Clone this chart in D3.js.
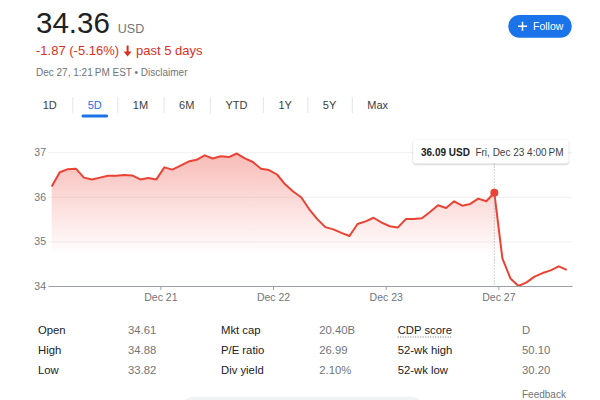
<!DOCTYPE html>
<html><head><meta charset="utf-8">
<script src="https://cdn.jsdelivr.net/npm/d3@7"></script>
<style>
body{margin:0;background:#fff;}
svg{display:block;font-family:"Liberation Sans",Arial,sans-serif;}
</style>
</head><body><svg id="c" width="600" height="400"></svg>
<script>
// ---- data (30-minute samples per trading day) ----
const dayLabels = ["Dec 20", "Dec 21", "Dec 22", "Dec 23", "Dec 27"];
const dec20 = [36.23, 36.55, 36.62, 36.63, 36.43, 36.39, 36.43, 36.47, 36.47, 36.49, 36.48, 36.39, 36.42, 36.39];
const dec21 = [36.66, 36.61, 36.70, 36.79, 36.83, 36.93, 36.86, 36.91, 36.89, 36.97, 36.86, 36.78, 36.63, 36.60];
const dec22 = [36.50, 36.28, 36.12, 35.99, 35.72, 35.50, 35.32, 35.27, 35.19, 35.12, 35.39, 35.45, 35.53, 35.42];
const dec23 = [35.34, 35.31, 35.50, 35.50, 35.52, 35.66, 35.81, 35.75, 35.90, 35.80, 35.84, 35.96, 35.90, 36.09];
const dec27 = [34.62, 34.17, 34.00, 34.08, 34.21, 34.29, 34.35, 34.44, 34.36];
const yTicks = [34, 35, 36, 37];
const tabs = ["1D", "5D", "1M", "6M", "YTD", "1Y", "5Y", "Max"];
const statLabels = [["Open", "High", "Low"], ["Mkt cap", "P/E ratio", "Div yield"], ["CDP score", "52-wk high", "52-wk low"]];
const statValues = [["34.61", "34.88", "33.82"], ["20.40B", "26.99", "2.10%"], ["D", "50.10", "30.20"]];
const price = "34.36", currency = "USD";
const change = "-1.87 (-5.16%)", period = "past 5 days";
const stamp = "Dec 27, 1:21\u202FPM EST \u2022 Disclaimer";
const tipValue = "36.09 USD", tipTime = "Fri, Dec 23 4:00\u202FPM";

const days = [dec20, dec21, dec22, dec23, dec27];
const series = [];
days.forEach((arr, di) => arr.forEach(v => series.push({i: series.length, v, day: di})));
// ticks placed between sessions
const tickIdx = [];
let acc = 0;
days.forEach((arr, di) => { if (di > 0) tickIdx.push(acc - 0.5); acc += arr.length; });
const tickLabels = dayLabels.slice(1);

const svg = d3.select("#c");
svg.append("rect").attr("width", 600).attr("height", 400).attr("fill", "#fff");

// ---- header ----
const ptxt = svg.append("text").attr("x", 36).attr("y", 33.3).attr("font-size", 29.5).attr("fill", "#202124").text(price);
const pw = ptxt.node().getComputedTextLength();
svg.append("text").attr("x", 36 + pw + 8).attr("y", 33.3).attr("font-size", 12.5).attr("fill", "#70757a").text(currency);

const ctxt = svg.append("text").attr("x", 36).attr("y", 55).attr("font-size", 13).attr("fill", "#d93025").text(change);
const cw = ctxt.node().getComputedTextLength();
const ax = 36 + cw + 8.5;
svg.append("path").attr("d", `M${ax-1},45.5 h2 v6 h3 l-4,5 l-4,-5 h3 z`).attr("fill", "#d93025");
svg.append("text").attr("x", ax + 8.5).attr("y", 55).attr("font-size", 13).attr("fill", "#d93025").text(period);

svg.append("text").attr("x", 36).attr("y", 76.3).attr("font-size", 10).attr("fill", "#70757a").text(stamp);

// Follow button
svg.append("rect").attr("x", 508.3).attr("y", 15).attr("width", 63.4).attr("height", 22.7).attr("rx", 11.35).attr("fill", "#1a73e8");
svg.append("path").attr("d", "M518,26.3 h9 M522.5,21.8 v9").attr("stroke", "#fff").attr("stroke-width", 1.5);
svg.append("text").attr("x", 533).attr("y", 29.8).attr("font-size", 10.5).attr("fill", "#fff").text("Follow");

// tabs
let tx = 27.2;
tabs.forEach((t, k) => {
  const el = svg.append("text").attr("x", tx + 15.5).attr("y", 109).attr("font-size", 11)
    .attr("fill", k === 1 ? "#1a73e8" : "#3c4043").text(t);
  const w = el.node().getComputedTextLength();
  if (k === 1) {
    svg.append("rect").attr("x", tx + 15.5 + w/2 - 13.3).attr("y", 114.5).attr("width", 26.6).attr("height", 3).attr("rx", 1.5).attr("fill", "#1a73e8");
  }
  tx += 15.5 + w + 15.5;
  if (k < tabs.length - 1) {
    svg.append("line").attr("x1", tx + 0.5).attr("x2", tx + 0.5).attr("y1", 97).attr("y2", 113).attr("stroke", "#e3e5e8");
  }
});

// ---- chart ----
const x = d3.scaleLinear().domain([-0.46, 64.65]).range([48, 572]);
const y = d3.scaleLinear().domain([34, 37]).range([286, 152.2]);

const defs = svg.append("defs");
const grad = defs.append("linearGradient").attr("id", "g").attr("gradientUnits", "userSpaceOnUse")
  .attr("x1", 0).attr("x2", 0).attr("y1", y(37)).attr("y2", y(34.7));
grad.append("stop").attr("offset", 0).attr("stop-color", "#ea4335").attr("stop-opacity", 0.36);
grad.append("stop").attr("offset", 1).attr("stop-color", "#ea4335").attr("stop-opacity", 0);
const f = defs.append("filter").attr("id", "sh").attr("x", "-10%").attr("y", "-40%").attr("width", "120%").attr("height", "180%");
f.append("feDropShadow").attr("dx", 0).attr("dy", 1).attr("stdDeviation", 1.3).attr("flood-color", "#000").attr("flood-opacity", 0.28);

// grid
svg.append("g").selectAll("line").data(yTicks.slice(1)).join("line")
  .attr("x1", 48).attr("x2", 572).attr("y1", d => y(d) + 0.5).attr("y2", d => y(d) + 0.5)
  .attr("stroke", "#f0f1f2");

// area & line
svg.append("path").datum(series)
  .attr("d", d3.area().x(d => x(d.i)).y0(y(34)).y1(d => y(d.v)))
  .attr("fill", "url(#g)");
svg.append("path").datum(series)
  .attr("d", d3.line().x(d => x(d.i)).y(d => y(d.v)))
  .attr("fill", "none").attr("stroke", "#ea4335").attr("stroke-width", 2).attr("stroke-linejoin", "round");

// y axis
const ya = svg.append("g").attr("transform", "translate(48,0)")
  .call(d3.axisLeft(y).tickValues(yTicks).tickSize(0).tickPadding(2).tickFormat(d3.format("d")));
ya.select(".domain").remove();
ya.selectAll("text").attr("fill", "#70757a").attr("font-size", 10.5).attr("font-family", "Liberation Sans, Arial, sans-serif");

// x axis
const xa = svg.append("g").attr("transform", `translate(0,${y(34)})`)
  .call(d3.axisBottom(x).tickValues(tickIdx).tickFormat((d, k) => tickLabels[k]).tickSize(4).tickSizeOuter(0).tickPadding(4));
xa.select(".domain").attr("stroke", "#9aa0a6");
xa.selectAll(".tick line").attr("stroke", "#9aa0a6");
xa.selectAll("text").attr("fill", "#70757a").attr("font-size", 10.5).attr("font-family", "Liberation Sans, Arial, sans-serif");

// hover marker
const hp = series[dec20.length + dec21.length + dec22.length + dec23.length - 1];
svg.append("line").attr("x1", x(hp.i)).attr("x2", x(hp.i)).attr("y1", 163.5).attr("y2", y(34))
  .attr("stroke", "#9aa0a6").attr("stroke-dasharray", "1,2");
svg.append("circle").attr("cx", x(hp.i)).attr("cy", y(hp.v)).attr("r", 4).attr("fill", "#ea4335");

// tooltip
svg.append("rect").attr("x", 413.3).attr("y", 140).attr("width", 155).attr("height", 23.3).attr("rx", 2)
  .attr("fill", "#fff").attr("filter", "url(#sh)");
const tv = svg.append("text").attr("x", 421).attr("y", 155.5).attr("font-size", 10).attr("font-weight", "bold").attr("fill", "#202124").text(tipValue);
const tvw = tv.node().getComputedTextLength();
svg.append("text").attr("x", 421 + tvw + 5.5).attr("y", 155.5).attr("font-size", 10).attr("fill", "#3c4043").text(tipTime);

// ---- stats table ----
const labX = [38, 221, 397.7], valX = [128, 319.3, 522], rowY = [334, 354, 374];
statLabels.forEach((col, c) => col.forEach((t, r) => {
  const el = svg.append("text").attr("x", labX[c]).attr("y", rowY[r]).attr("font-size", 11.3).attr("fill", "#202124").text(t);
  if (t === "CDP score") {
    const w = el.node().getComputedTextLength();
    svg.append("line").attr("x1", labX[c]).attr("x2", labX[c] + w).attr("y1", rowY[r] + 3).attr("y2", rowY[r] + 3)
      .attr("stroke", "#70757a").attr("stroke-dasharray", "1,1.5");
  }
}));
statValues.forEach((col, c) => col.forEach((t, r) => {
  svg.append("text").attr("x", valX[c]).attr("y", rowY[r]).attr("font-size", 11.3).attr("fill", "#70757a").text(t);
}));

svg.append("rect").attr("x", 183).attr("y", 396.5).attr("width", 239).attr("height", 20).attr("rx", 10).attr("fill", "#f1f3f4");
svg.append("text").attr("x", 522).attr("y", 398).attr("font-size", 10).attr("fill", "#70757a").text("Feedback");
</script>
</body></html>
